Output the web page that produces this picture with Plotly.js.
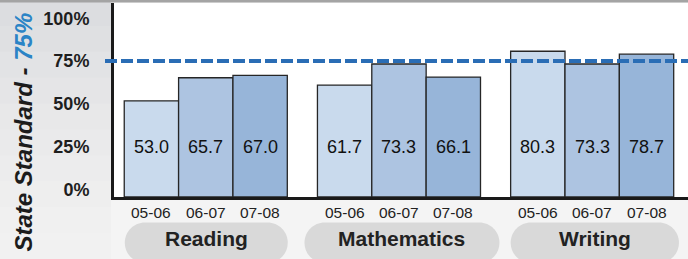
<!DOCTYPE html>
<html><head><meta charset="utf-8">
<script src="https://cdn.plot.ly/plotly-3.0.1.min.js"></script>
<style>html,body{margin:0;padding:0;background:#f4f4f4;} #chart{width:688px;height:259px;}</style>
</head><body><div id="chart"></div>
<script>
// ---- data ----
const subjects = ["Reading", "Mathematics", "Writing"];
const years = ["05-06", "06-07", "07-08"];
const scores0506 = [53.0, 61.7, 80.3];
const scores0607 = [65.7, 73.3, 73.3];
const scores0708 = [67.0, 66.1, 78.7];
const yTickVals = [0, 25, 50, 75, 100];
const yTickText = ["0%", "25%", "50%", "75%", "100%"];
const stateStandard = 75;
const titleMain = "State Standard - ";
const titleValue = "75%";

// ---- styling / geometry ----
const W = 688, H = 259;
const M = {l: 114, r: 0, t: 3, b: 62};
const plotW = W - M.l - M.r, plotH = H - M.t - M.b;
const px = x => (x - M.l) / plotW;           // page px -> paper x
const py = y => (H - M.b - y) / plotH;       // page px -> paper y
const FONT = "Liberation Sans, Arial, Helvetica, sans-serif";
const barColors = ["#c9daed", "#adc4e1", "#97b5d9"];
const xRange = [-0.475, 2.496];
const bargap = 0.156;
const barPx = plotW / (xRange[1] - xRange[0]) * (1 - bargap) / years.length;
const valueRow = 25;
const pillBox = [[-81, 82], [-94.5, 100.5], [-81.5, 86.8]];
const pillTop = -25.5, pillBottom = -66;

const series = [scores0506, scores0607, scores0708];

const traces = series.map((s, i) => ({
  type: "bar", x: subjects, y: s, name: years[i],
  xaxis: "x", yaxis: "y2",
  marker: {color: barColors[i], line: {color: "#262626", width: 1.3}},
  hoverinfo: "skip"
}));

const annotations = [];
const mid = {xanchor: "center", yanchor: "middle", showarrow: false};
series.forEach((s, i) => {
  subjects.forEach((subj, j) => {
    annotations.push(Object.assign({xref: "x", yref: "y", x: subj, y: valueRow, xshift: (i - 1) * barPx,
      text: s[j].toFixed(1), font: {family: FONT, size: 18, color: "#111"}}, mid));
    annotations.push(Object.assign({xref: "x", yref: "paper", x: subj, y: py(212.5), xshift: (i - 1) * barPx,
      text: years[i], font: {family: FONT, size: 15.5, color: "#222"}}, mid));
  });
});
subjects.forEach((subj, j) => {
  const c = (pillBox[j][0] + pillBox[j][1]) / 2;
  annotations.push(Object.assign({xref: "x", yref: "paper", x: subj, y: py(238.5), xshift: c,
    text: "<b>" + subj + "</b>", font: {family: FONT, size: 21, color: "#222"}}, mid));
});
annotations.push(Object.assign({xref: "paper", yref: "paper", x: px(23), y: py(132.5), textangle: -90,
  text: "<b><i>" + titleMain + "<span style='color:#2b84c6'>" + titleValue + "</span></i></b>",
  font: {family: FONT, size: 24, color: "#1c1c1c"}}, mid));

const shapes = [];
// left gradient panel
const bandCols = ["#dcdde0", "#dfe0e2", "#e2e3e5", "#e5e5e7", "#e8e8e9", "#eaeaeb", "#ececed", "#eeeeee", "#f0f0f0", "#f1f1f1"];
const bandH = H / bandCols.length;
bandCols.forEach((col, k) => {
  shapes.push({type: "rect", xref: "paper", yref: "paper", layer: "below",
    x0: px(0), x1: px(111), y0: py(k * bandH), y1: py((k + 1) * bandH + 0.5),
    fillcolor: col, line: {width: 0}});
});
// top border
shapes.push({type: "rect", xref: "paper", yref: "paper", layer: "above",
  x0: px(0), x1: px(W), y0: py(0), y1: py(2.5), fillcolor: "#a4a4a4", line: {width: 0}});
// pills
const k = 0.5523;
subjects.forEach((subj, j) => {
  const L = pillBox[j][0], R = pillBox[j][1];
  const T = pillTop, B = pillBottom, r = (T - B) / 2, cy = (T + B) / 2;
  const path = `M ${L + r} ${T} C ${L + r - k * r} ${T} ${L} ${cy + k * r} ${L} ${cy} ` +
    `C ${L} ${cy - k * r} ${L + r - k * r} ${B} ${L + r} ${B} L ${R - r} ${B} ` +
    `C ${R - r + k * r} ${B} ${R} ${cy - k * r} ${R} ${cy} ` +
    `C ${R} ${cy + k * r} ${R - r + k * r} ${T} ${R - r} ${T} Z`;
  shapes.push({type: "path", xref: "x", yref: "paper", xsizemode: "pixel", xanchor: subj,
    ysizemode: "pixel", yanchor: 0, path: path, fillcolor: "#d9d9d9", line: {width: 0}, layer: "below"});
});
// state standard dashed line
shapes.push({type: "line", xref: "paper", yref: "y", x0: px(105), x1: 1, y0: stateStandard, y1: stateStandard,
  line: {color: "#2a6db5", width: 4, dash: "12px,4px"}, layer: "above"});

const layout = {
  width: W, height: H, margin: M,
  paper_bgcolor: "#f4f4f4", plot_bgcolor: "#ffffff",
  showlegend: false, barmode: "group", bargap: bargap, bargroupgap: 0,
  font: {family: FONT},
  xaxis: {type: "category", range: xRange, showticklabels: false, ticks: "", showgrid: false,
    zeroline: false, showline: true, linecolor: "#1a1a1a", linewidth: 3, fixedrange: true},
  yaxis: {range: [-4.5, 108.95], tickvals: yTickVals, ticktext: yTickText, ticks: "outside", ticklen: 18,
    tickcolor: "rgba(0,0,0,0)", tickfont: {family: FONT, size: 18, color: "#1e1e1e", weight: "bold"},
    showgrid: false, zeroline: false, showline: true, linecolor: "#1a1a1a", linewidth: 3, fixedrange: true},
  yaxis2: {overlaying: "y", range: [0, 106.9], visible: false, fixedrange: true},
  annotations: annotations, shapes: shapes
};

Plotly.newPlot("chart", traces, layout, {staticPlot: true, displayModeBar: false});
</script>
</body></html>
